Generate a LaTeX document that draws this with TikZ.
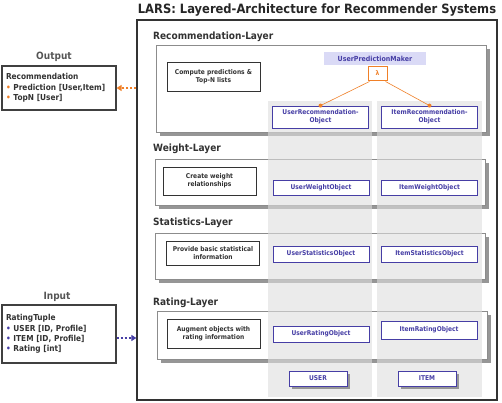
\documentclass[tikz,border=0pt]{standalone}
\usepackage{fontspec}
\setmainfont{DejaVu Sans}[FakeStretch=0.9]
\usetikzlibrary{shadows,arrows.meta,calc}

\definecolor{larsPurple}{RGB}{70,62,165}
\definecolor{larsOrange}{RGB}{240,128,40}
\definecolor{larsLav}{RGB}{218,218,246}
\definecolor{larsShadow}{RGB}{150,150,150}
\definecolor{larsText}{RGB}{50,50,50}
\definecolor{larsLabel}{RGB}{85,85,85}

\newcommand{\smalltxt}{\fontsize{6.6}{8.2}\selectfont\bfseries}
\newcommand{\layertxt}{\fontsize{10}{12}\selectfont\bfseries}
\newcommand{\iotxt}{\fontsize{8.2}{10.4}\selectfont\bfseries}

\begin{document}
\begin{tikzpicture}[x=1pt,y=-1pt,
    frame/.style={draw=black!80,line width=1.3pt,fill=white,minimum width=360pt,minimum height=380pt},
    layer/.style={draw=black!45,line width=0.8pt,fill=white,minimum width=330pt,inner sep=0pt,
      drop shadow={shadow xshift=4pt,shadow yshift=-4pt,fill=larsShadow,opacity=1}},
    layerlabel/.style={anchor=west,text=larsText,font=\layertxt,inner sep=0pt},
    column/.style={fill=black!13,fill opacity=0.6,minimum width=104pt,minimum height=296pt,inner sep=0pt},
    textbox/.style={draw=black!80,line width=0.9pt,fill=white,text=larsText,font=\smalltxt,align=center,
      minimum width=93pt,inner sep=0pt},
    objbox/.style={draw=larsPurple,line width=0.8pt,fill=white,text=larsPurple,font=\smalltxt,align=center,
      minimum width=96pt,inner sep=0pt},
    basebox/.style={objbox,minimum width=58pt,minimum height=15pt,
      drop shadow={shadow xshift=3pt,shadow yshift=-3pt,fill=larsShadow,opacity=1}},
    iobox/.style={draw=black!75,line width=1.2pt,fill=white,text=larsText,font=\iotxt,align=left,
      text width=106pt,inner xsep=4pt},
    iolabel/.style={text=larsLabel,font=\layertxt,inner sep=0pt},
    lamBox/.style={draw=larsOrange,line width=1pt,fill=white,text=larsOrange,font=\smalltxt,
      minimum width=19pt,minimum height=14pt,inner sep=0pt},
    dotline/.style={line width=1.8pt,dash pattern=on 2pt off 2pt}
  ]
  \useasboundingbox (0,0) rectangle (502,403);

  \node[font=\fontsize{12.8}{14}\selectfont\bfseries,text=black!85,inner sep=0pt] (title) at (317,10)
    {LARS: Layered-Architecture for Recommender Systems};
  \node[frame] (frame) at (317,210) {};

  %% the four layers
  \node[layerlabel] (recLabel) at (153,37) {Recommendation-Layer};
  \node[layer,minimum height=87pt] (recLayer) at (321,88.5) {};
  \node[layerlabel] (weightLabel) at (153,149) {Weight-Layer};
  \node[layer,minimum height=46pt] (weightLayer) at (320,182) {};
  \node[layerlabel] (statLabel) at (153,223) {Statistics-Layer};
  \node[layer,minimum height=46pt] (statLayer) at (320,256) {};
  \node[layerlabel] (ratingLabel) at (153,303) {Rating-Layer};
  \node[layer,minimum height=48pt] (ratingLayer) at (322,335) {};

  %% user and item columns
  \node[column] (userCol) at (320,249) {};
  \node[column,minimum width=105pt] (itemCol) at (429.5,249) {};

  %% what each layer does
  \node[textbox,minimum height=29pt] (computeBox) at (213.5,76.5) {Compute predictions \&\\Top-N lists};
  \node[textbox,minimum height=28pt] (weightBox) at (209.5,181) {Create weight\\relationships};
  \node[textbox,minimum height=24pt] (statBox) at (213,253) {Provide basic statistical\\information};
  \node[textbox,minimum height=29pt] (ratingBox) at (213.5,333.5) {Augment objects with\\rating information};

  %% objects
  \node[fill=larsLav,text=larsPurple,font=\fontsize{7}{8}\selectfont\bfseries,minimum width=102pt,
    minimum height=13pt,inner sep=0pt] (predMaker) at (375,58.5) {UserPredictionMaker};
  \node[lamBox] (lam) at (377.5,74) {\raisebox{2.5pt}{λ}\hspace{9pt}};
  \node[objbox,minimum height=22pt] (userRec) at (320.5,117) {UserRecommendation-\\Object};
  \node[objbox,minimum height=22pt] (itemRec) at (429.5,117) {ItemRecommendation-\\Object};
  \node[objbox,minimum height=15pt] (userWeight) at (321,187.5) {UserWeightObject};
  \node[objbox,minimum height=15pt] (itemWeight) at (429.5,187.5) {ItemWeightObject};
  \node[objbox,minimum height=16pt] (userStat) at (321,254) {UserStatisticsObject};
  \node[objbox,minimum height=16pt] (itemStat) at (429.5,254) {ItemStatisticsObject};
  \node[objbox,minimum height=16pt] (userRating) at (321,334) {UserRatingObject};
  \node[objbox,minimum height=18pt] (itemRating) at (429,330) {ItemRatingObject};
  \node[basebox] (userBase) at (318,378.5) {USER};
  \node[basebox] (itemBase) at (427,378.5) {ITEM};

  \draw[larsOrange,line width=0.6pt] ([xshift=2pt]lam.south west) -- (userRec.north);
  \draw[larsOrange,line width=0.6pt] ([xshift=-2pt]lam.south east) -- (itemRec.north);
  \fill[larsOrange] (userRec.north) circle (2pt);
  \fill[larsOrange] (itemRec.north) circle (2pt);

  %% output and input
  \node[iolabel] (outLabel) at (54,57) {Output};
  \node[iobox,minimum height=44pt] (outBox) at (59,88)
    {Recommendation\\{\color{larsOrange}•} Prediction [User,Item]\\{\color{larsOrange}•} TopN [User]};
  \node[iolabel] (inLabel) at (57,297) {Input};
  \node[iobox,minimum height=58pt] (inBox) at (59,334)
    {RatingTuple\\{\color{larsPurple}•} USER [ID, Profile]\\{\color{larsPurple}•} ITEM [ID, Profile]\\{\color{larsPurple}•} Rating [int]};

  \draw[dotline,larsOrange,-{Triangle[length=5pt,width=6pt]}] (frame.west |- outBox.east) -- (outBox.east);
  \coordinate (inPort) at ([yshift=-4pt]inBox.east);
  \draw[dotline,larsPurple,-{Triangle[length=5pt,width=6pt]}] (inPort) -- (inPort -| frame.west);
\end{tikzpicture}
\end{document}
